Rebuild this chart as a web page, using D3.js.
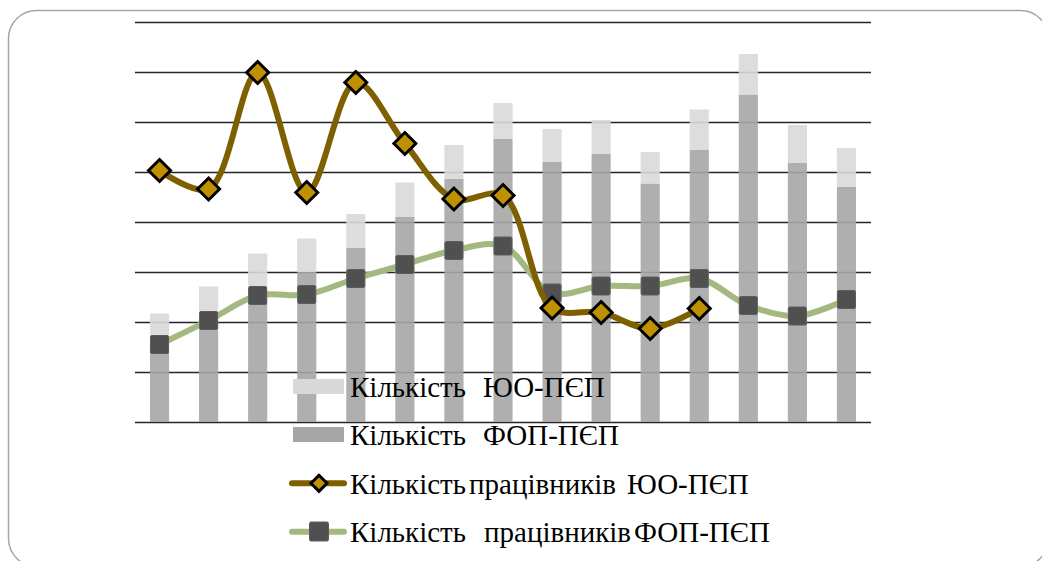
<!DOCTYPE html>
<html>
<head>
<meta charset="utf-8">
<script src="https://cdn.jsdelivr.net/npm/d3@7"></script>
<style>
  html, body { margin: 0; padding: 0; background: #ffffff; }
  svg { display: block; }
</style>
</head>
<body>
<svg id="chart" width="1042" height="561"></svg>
<script>
// Periods (15 observations)
const categories = ["1", "2", "3", "4", "5", "6", "7", "8", "9", "10", "11", "12", "13", "14", "15"];

// Stacked columns: ФОП-ПЄП at the bottom, ЮО-ПЄП on top
const fopCount = [164, 208, 264, 300, 348, 410, 486, 566, 520, 536, 477, 544, 655, 518, 470];
const yuoCount = [53, 63, 73, 67, 68, 69, 68, 72, 66, 68, 63, 81, 81, 76, 78];

// Workers (lines)
const yuoWorkers = [503, 466, 699, 459, 679, 557, 446, 453, 228, 219, 187, 227, null, null, null];
const fopWorkers = [155, 203, 253, 255, 287, 315, 343, 352, 258, 272, 272, 287, 233, 212, 245];

const gridTicks = [0, 100, 200, 300, 400, 500, 600, 700, 800];

const legendLabels = [
  ["Кількість", "ЮО-ПЄП"],
  ["Кількість", "ФОП-ПЄП"],
  ["Кількість", "працівників", "ЮО-ПЄП"],
  ["Кількість", "працівників", "ФОП-ПЄП"]
];

const C = {
  yuoBar: "#d9d9d9",
  fopBar: "#a6a6a6",
  yuoLine: "#7f6000",
  yuoMarker: "#bf9000",
  fopLine: "#a3b97f",
  fopMarker: "#505050",
  grid: "#262626",
  frame: "#a6a6a6"
};

const svg = d3.select("#chart");

// Rounded slide frame
svg.append("rect")
  .attr("x", 8.5).attr("y", 10.5)
  .attr("width", 1040).attr("height", 556)
  .attr("rx", 28).attr("ry", 28)
  .attr("fill", "none")
  .attr("stroke", C.frame)
  .attr("stroke-width", 1.5);

const plot = { left: 135, right: 871, top: 22, bottom: 422 };

const x = d3.scaleBand()
  .domain(categories)
  .range([plot.left, plot.right])
  .paddingInner(0.61)
  .paddingOuter(0.305);

const y = d3.scaleLinear()
  .domain([0, 800])
  .range([plot.bottom, plot.top]);

// Horizontal gridlines
const grid = svg.append("g")
  .attr("transform", `translate(${plot.left},0)`)
  .call(d3.axisLeft(y)
    .tickValues(gridTicks)
    .tickSize(-(plot.right - plot.left))
    .tickFormat(""));
grid.select(".domain").remove();
grid.selectAll(".tick line")
  .attr("stroke", C.grid)
  .attr("stroke-width", 1.3);

// Stacked columns
const rows = categories.map((c, i) => ({ cat: c, fop: fopCount[i], yuo: yuoCount[i] }));
const stack = d3.stack().keys(["fop", "yuo"])(rows);
const barColors = { fop: C.fopBar, yuo: C.yuoBar };

svg.append("g").selectAll("g")
  .data(stack)
  .join("g")
  .attr("fill", d => barColors[d.key])
  .attr("fill-opacity", 0.9)
  .selectAll("rect")
  .data(d => d)
  .join("rect")
  .attr("x", d => x(d.data.cat))
  .attr("width", x.bandwidth())
  .attr("y", d => y(d[1]))
  .attr("height", d => y(d[0]) - y(d[1]));

const cx = c => x(c) + x.bandwidth() / 2;

// Workers of ФОП-ПЄП
const fopPts = categories.map((c, i) => ({ c, v: fopWorkers[i] })).filter(d => d.v != null);
svg.append("path")
  .datum(fopPts)
  .attr("fill", "none")
  .attr("stroke", C.fopLine)
  .attr("stroke-width", 6)
  .attr("stroke-linejoin", "round")
  .attr("stroke-linecap", "round")
  .attr("d", d3.line().x(d => cx(d.c)).y(d => y(d.v)).curve(d3.curveCatmullRom.alpha(0.5)));

const sq = 18;
svg.append("g").selectAll("rect")
  .data(fopPts)
  .join("rect")
  .attr("x", d => cx(d.c) - sq / 2)
  .attr("y", d => y(d.v) - sq / 2)
  .attr("width", sq).attr("height", sq)
  .attr("rx", 1.5)
  .attr("fill", C.fopMarker)
  .attr("stroke", "#5c5c5c")
  .attr("stroke-width", 1);

// Workers of ЮО-ПЄП
const yuoPts = categories.map((c, i) => ({ c, v: yuoWorkers[i] })).filter(d => d.v != null);
svg.append("path")
  .datum(yuoPts)
  .attr("fill", "none")
  .attr("stroke", C.yuoLine)
  .attr("stroke-width", 6)
  .attr("stroke-linejoin", "round")
  .attr("stroke-linecap", "round")
  .attr("d", d3.line().x(d => cx(d.c)).y(d => y(d.v)).curve(d3.curveCatmullRom.alpha(0.5)));

const diamond = r => `M0,${-r}L${r},0L0,${r}L${-r},0Z`;
svg.append("g").selectAll("path")
  .data(yuoPts)
  .join("path")
  .attr("transform", d => `translate(${cx(d.c)},${y(d.v)})`)
  .attr("d", diamond(11))
  .attr("fill", C.yuoMarker)
  .attr("stroke", "#000")
  .attr("stroke-width", 3)
  .attr("stroke-linejoin", "miter");

// Legend
const legend = svg.append("g").attr("transform", "translate(290,0)");
const rowBase = [397, 445, 493.5, 541.5];

// swatches
legend.append("rect").attr("x", 3).attr("y", 379).attr("width", 51).attr("height", 15).attr("fill", C.yuoBar);
legend.append("rect").attr("x", 3).attr("y", 427).attr("width", 51).attr("height", 15).attr("fill", C.fopBar);

legend.append("line").attr("x1", 2).attr("x2", 54).attr("y1", 483.3).attr("y2", 483.3)
  .attr("stroke", C.yuoLine).attr("stroke-width", 6).attr("stroke-linecap", "round");
legend.append("path").attr("transform", "translate(29,483.3)").attr("d", diamond(8))
  .attr("fill", C.yuoMarker).attr("stroke", "#000").attr("stroke-width", 3);

legend.append("line").attr("x1", 2).attr("x2", 54).attr("y1", 531.7).attr("y2", 531.7)
  .attr("stroke", C.fopLine).attr("stroke-width", 6).attr("stroke-linecap", "round");
legend.append("rect").attr("x", 19.5).attr("y", 522).attr("width", 19).attr("height", 19).attr("rx", 1.5)
  .attr("fill", C.fopMarker).attr("stroke", "#5c5c5c").attr("stroke-width", 1);

// word start positions within each legend row
const wordX = [
  [60, 193],
  [60, 193],
  [60, 179, 337],
  [60, 194, 344]
];

legendLabels.forEach((words, i) => {
  const t = legend.append("text")
    .attr("y", rowBase[i])
    .style("font-family", '"Liberation Serif"')
    .style("font-size", "29px")
    .attr("fill", "#000");
  words.forEach((w, j) => {
    t.append("tspan").attr("x", wordX[i][j]).text(w);
  });
});
</script>
</body>
</html>
